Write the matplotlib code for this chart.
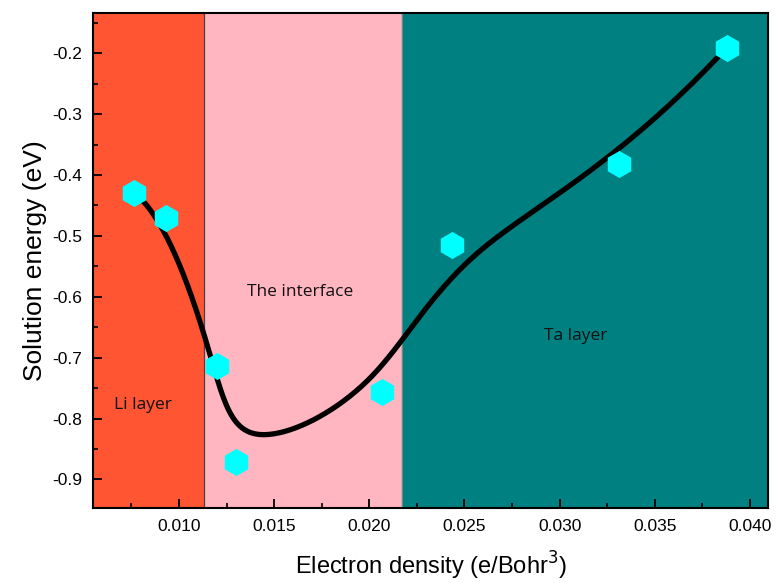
import matplotlib.pyplot as plt
import numpy as np
from matplotlib.ticker import MultipleLocator

# electron density (e/Bohr^3) and solution energy (eV)
density = [0.00764, 0.00932, 0.01198, 0.01298, 0.02066, 0.02435, 0.03311, 0.03878]
energy = [-0.429, -0.470, -0.714, -0.871, -0.756, -0.515, -0.382, -0.191]

# region boundaries along the density axis
li_edge = 0.01131
ta_edge = 0.02174
x_range = (0.00550, 0.04095)
y_range = (-0.947, -0.134)

region_labels = ['Li layer', 'The interface', 'Ta layer']
label_pos = [(0.00811, -0.778), (0.01636, -0.592), (0.03085, -0.664)]


def _bspline(ctrl_x, ctrl_y, n=400, k=3):
    # clamped uniform B-spline using the data points as control points
    pts = np.column_stack([ctrl_x, ctrl_y])
    m = len(pts)
    inner = np.arange(1, m - k)
    knots = np.concatenate([np.zeros(k + 1), inner, np.full(k + 1, m - k)]).astype(float)
    t = np.linspace(0, m - k, n)
    t[-1] -= 1e-9
    out = []
    for tt in t:
        N = np.array([1.0 if knots[i] <= tt < knots[i + 1] else 0.0 for i in range(len(knots) - 1)])
        for d in range(1, k + 1):
            newN = np.zeros(len(knots) - 1 - d)
            for i in range(len(newN)):
                a = 0.0
                if knots[i + d] != knots[i]:
                    a = (tt - knots[i]) / (knots[i + d] - knots[i]) * N[i]
                b = 0.0
                if knots[i + d + 1] != knots[i + 1]:
                    b = (knots[i + d + 1] - tt) / (knots[i + d + 1] - knots[i + 1]) * N[i + 1]
                newN[i] = a + b
            N = newN
        out.append(N @ pts)
    out = np.array(out)
    return out[:, 0], out[:, 1]


plt.rcParams['font.family'] = ['Liberation Sans', 'DejaVu Sans']
fig = plt.figure(figsize=(7.77, 5.83), dpi=100)
ax = fig.add_axes([0.1201, 0.1286, 0.8683, 0.8491])

ax.axvspan(x_range[0], li_edge, color='#FF5533', zorder=0)
ax.axvspan(li_edge, ta_edge, facecolor='#FFB6C1', edgecolor='none', zorder=0)
ax.axvspan(ta_edge, x_range[1], color='#008080', zorder=0)
ax.axvline(li_edge, color='#444444', lw=0.9, zorder=1)
ax.axvline(ta_edge, color='#888888', lw=0.6, zorder=1)

cx, cy = _bspline(density, energy)
ax.plot(cx, cy, color='black', lw=3.8, zorder=2, solid_capstyle='round')
ax.plot(density, energy, linestyle='none', marker='h', markersize=19.5,
        color='#00FFFF', markeredgewidth=0, zorder=3)

for lab, (lx, ly) in zip(region_labels, label_pos):
    ax.text(lx, ly, lab, ha='center', va='center', fontsize=12.5,
            family=['Open Sans', 'DejaVu Sans'], color='#111111')

ax.set_xlim(*x_range)
ax.set_ylim(*y_range)
ax.xaxis.set_major_locator(MultipleLocator(0.005))
ax.xaxis.set_minor_locator(MultipleLocator(0.0025))
ax.yaxis.set_major_locator(MultipleLocator(0.1))
ax.yaxis.set_minor_locator(MultipleLocator(0.05))
ax.xaxis.set_major_formatter(plt.FuncFormatter(lambda v, p: '{:.3f}'.format(v)))
ax.yaxis.set_major_formatter(plt.FuncFormatter(lambda v, p: '{:.1f}'.format(v)))
ax.tick_params(which='major', direction='in', length=6.5, width=1.3, labelsize=12.5, pad=8)
ax.tick_params(which='minor', direction='in', length=3.5, width=1.2)
for s in ax.spines.values():
    s.set_linewidth(1.5)

ax.set_xlabel('Electron density (e/Bohr$^3$)', fontsize=17, labelpad=11)
ax.set_ylabel('Solution energy (eV)', fontsize=19, labelpad=4)

fig.savefig('out.png', dpi=100)
